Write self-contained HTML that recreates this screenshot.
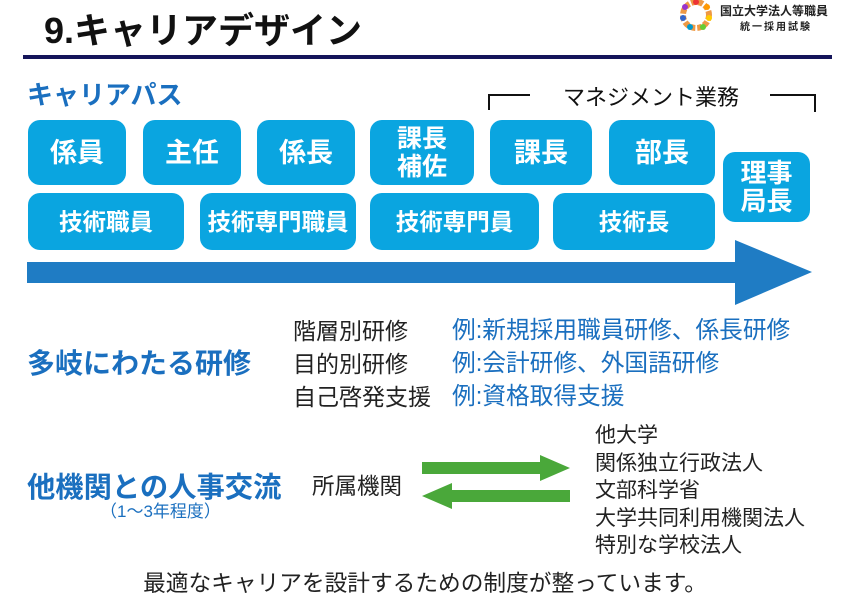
<!DOCTYPE html>
<html><head><meta charset="utf-8"><style>
body{margin:0;width:850px;height:600px;background:#fff;position:relative;overflow:hidden;font-family:"Liberation Sans","Noto Sans CJK JP",sans-serif}
.a{position:absolute;white-space:nowrap}
.b{position:absolute;background:#0aa5e0;color:#fff;border-radius:12px;display:flex;align-items:center;justify-content:center;text-align:center;font-weight:bold;font-size:27px;line-height:28px}
.b2{font-size:23.5px}
.blue{color:#1a6fbf}
</style></head><body>
<div class="a" style="left:44px;top:2px;font-size:36px;font-weight:bold;color:#111">9.キャリアデザイン</div>
<svg class="a" style="left:676px;top:-4px" width="40" height="40"><g fill="none" stroke-width="6" stroke-dasharray="5 2">
<circle cx="20" cy="19" r="13" stroke="#e94" /></g>
<circle cx="20" cy="6" r="3" fill="#e33"/><circle cx="31" cy="11" r="3" fill="#f90"/><circle cx="33" cy="22" r="3" fill="#fc0"/><circle cx="27" cy="31" r="3" fill="#6c3"/><circle cx="14" cy="31" r="3" fill="#09c"/><circle cx="7" cy="22" r="3" fill="#36c"/><circle cx="9" cy="11" r="3" fill="#93c"/></svg>
<div class="a" style="left:720px;top:2px;font-size:12px;font-weight:bold;color:#222">国立大学法人等職員</div>
<div class="a" style="left:740px;top:18px;font-size:10px;font-weight:bold;color:#222;letter-spacing:2px">統一採用試験</div>
<div class="a" style="left:23px;top:55px;width:809px;height:4px;background:#15155a"></div>
<div class="a blue" style="left:27px;top:75px;font-size:26px;font-weight:bold">キャリアパス</div>
<div class="a" style="left:488px;top:94px;width:40px;height:14px;border-top:2px solid #111;border-left:2px solid #111"></div>
<div class="a" style="left:563px;top:80px;font-size:22px;color:#111">マネジメント業務</div>
<div class="a" style="left:770px;top:94px;width:44px;height:16px;border-top:2px solid #111;border-right:2px solid #111"></div>
<div class="b" style="left:28px;top:120px;width:98px;height:65px">係員</div>
<div class="b" style="left:143px;top:120px;width:98px;height:65px">主任</div>
<div class="b" style="left:257px;top:120px;width:98px;height:65px">係長</div>
<div class="b" style="left:370px;top:120px;width:104px;height:65px;font-size:25px">課長<br>補佐</div>
<div class="b" style="left:490px;top:120px;width:102px;height:65px">課長</div>
<div class="b" style="left:609px;top:120px;width:106px;height:65px">部長</div>
<div class="b" style="left:723px;top:152px;width:87px;height:70px;font-size:26px">理事<br>局長</div>
<div class="b b2" style="left:28px;top:193px;width:156px;height:57px">技術職員</div>
<div class="b b2" style="left:200px;top:193px;width:156px;height:57px">技術専門職員</div>
<div class="b b2" style="left:370px;top:193px;width:169px;height:57px">技術専門員</div>
<div class="b b2" style="left:553px;top:193px;width:162px;height:57px">技術長</div>
<svg class="a" style="left:0;top:0" width="850" height="600">
<polygon points="27,262 735,262 735,240 812,272 735,305 735,283 27,283" fill="#1f7cc4"/>
<polygon points="422,462 540,462 540,455 570,468 540,481 540,474 422,474" fill="#4aa83a"/>
<polygon points="570,490 452,490 452,483 422,496 452,509 452,502 570,502" fill="#4aa83a"/>
</svg>
<div class="a blue" style="left:27px;top:342px;font-size:28px;font-weight:bold">多岐にわたる研修</div>
<div class="a" style="left:293px;top:315px;font-size:23px;line-height:33px;color:#222">階層別研修<br>目的別研修<br>自己啓発支援</div>
<div class="a blue" style="left:452px;top:315px;font-size:23.7px;line-height:33px">例:新規採用職員研修、係長研修<br>例:会計研修、外国語研修<br>例:資格取得支援</div>
<div class="a blue" style="left:27px;top:465px;font-size:28.3px;font-weight:bold">他機関との人事交流</div>
<div class="a blue" style="left:100px;top:497px;font-size:17px">（1～3年程度）</div>
<div class="a" style="left:312px;top:469px;font-size:22.5px;color:#222">所属機関</div>
<div class="a" style="left:595px;top:422px;font-size:21px;line-height:27.5px;color:#222">他大学<br>関係独立行政法人<br>文部科学省<br>大学共同利用機関法人<br>特別な学校法人</div>
<div class="a" style="left:0;width:850px;text-align:center;top:565px;font-size:22.7px;color:#222">最適なキャリアを設計するための制度が整っています。</div>
</body></html>
